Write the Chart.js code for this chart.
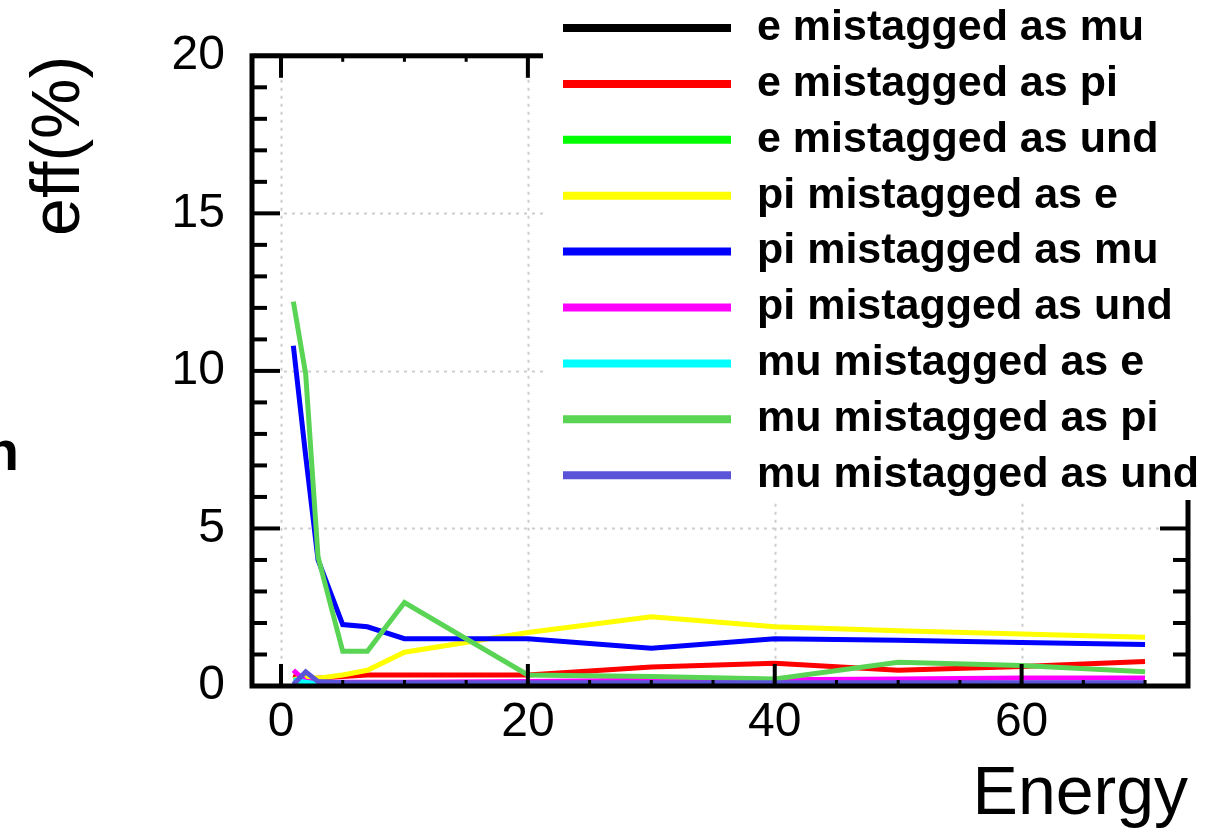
<!DOCTYPE html>
<html>
<head>
<meta charset="utf-8">
<title>Mistag efficiency vs energy</title>
<script src="https://cdn.jsdelivr.net/npm/chart.js@4.4.1/dist/chart.umd.min.js"></script>
<style>
  html, body { margin: 0; padding: 0; background: #ffffff; }
  canvas { display: block; }
</style>
</head>
<body>
<canvas id="chart" width="1230" height="836"></canvas>
<script>
// Beam energies where the mistag rates were measured
const energies = [1, 2, 3, 5, 7, 10, 20, 30, 40, 50, 60, 70];

// Mistag efficiencies in percent, one array per channel
const eAsMu    = [0.00, 0.00, 0.00, 0.00, 0.00, 0.00, 0.00, 0.00, 0.00, 0.00, 0.00, 0.00];
const eAsPi    = [0.35, 0.20, 0.25, 0.30, 0.35, 0.35, 0.35, 0.60, 0.72, 0.50, 0.62, 0.78];
const eAsUnd   = [0.02, 0.02, 0.02, 0.02, 0.02, 0.02, 0.02, 0.02, 0.02, 0.02, 0.02, 0.02];
const piAsE    = [0.20, 0.30, 0.25, 0.35, 0.50, 1.07, 1.70, 2.20, 1.88, 1.75, 1.65, 1.55];
const piAsMu   = [10.80, 7.30, 4.00, 1.95, 1.88, 1.50, 1.50, 1.20, 1.50, 1.45, 1.38, 1.32];
const piAsUnd  = [0.50, 0.15, 0.12, 0.12, 0.12, 0.12, 0.14, 0.18, 0.20, 0.22, 0.25, 0.25];
const muAsE    = [0.20, 0.12, 0.07, 0.06, 0.06, 0.06, 0.06, 0.06, 0.06, 0.06, 0.06, 0.06];
const muAsPi   = [12.20, 9.90, 4.10, 1.10, 1.10, 2.65, 0.35, 0.30, 0.22, 0.75, 0.65, 0.45];
const muAsUnd  = [0.05, 0.45, 0.14, 0.10, 0.10, 0.10, 0.10, 0.10, 0.10, 0.10, 0.10, 0.10];

const seriesLabels = [
  'e mistagged as mu', 'e mistagged as pi', 'e mistagged as und',
  'pi mistagged as e', 'pi mistagged as mu', 'pi mistagged as und',
  'mu mistagged as e', 'mu mistagged as pi', 'mu mistagged as und'
];
const seriesValues = [eAsMu, eAsPi, eAsUnd, piAsE, piAsMu, piAsUnd, muAsE, muAsPi, muAsUnd];
const seriesColors = [
  '#000000', '#ff0000', '#00ff00',
  '#ffff00', '#0000ff', '#ff00ff',
  '#00ffff', '#59d454', '#5954d8'
];

// Axis tick labels
const xTickValues = [0, 20, 40, 60];
const yTickValues = [0, 5, 10, 15, 20];

const FONT = "'Liberation Sans', Arial, Helvetica, sans-serif";

const datasets = seriesValues.map((vals, i) => ({
  label: seriesLabels[i],
  data: energies.map((e, k) => ({ x: e, y: vals[k] })),
  borderColor: seriesColors[i],
  backgroundColor: seriesColors[i],
  borderWidth: 5,
  pointRadius: 0,
  tension: 0,
  fill: false,
  // first series is painted first, the last one ends up on top
  order: seriesValues.length - 1 - i
}));

// Dotted grid, boxed frame with inward ticks, legend panel
const framePlugin = {
  id: 'framePlugin',
  beforeDatasetsDraw(chart) {
    const { ctx, chartArea: a, scales: { x, y } } = chart;
    ctx.save();
    ctx.strokeStyle = '#cdcdcd';
    ctx.lineWidth = 2;
    ctx.setLineDash([3, 5]);
    xTickValues.forEach(v => {
      const px = Math.round(x.getPixelForValue(v)) + 0.5;
      ctx.beginPath(); ctx.moveTo(px, a.top); ctx.lineTo(px, a.bottom); ctx.stroke();
    });
    yTickValues.forEach(v => {
      const py = Math.round(y.getPixelForValue(v)) + 0.5;
      ctx.beginPath(); ctx.moveTo(a.left, py); ctx.lineTo(a.right, py); ctx.stroke();
    });
    ctx.restore();
  },
  afterDatasetsDraw(chart) {
    const { ctx, chartArea: a, scales: { x, y } } = chart;
    ctx.save();
    ctx.strokeStyle = '#000000';
    ctx.lineCap = 'butt';

    // y ticks: minor every 1, major every 5, on both sides
    ctx.lineWidth = 4;
    for (let v = 0; v <= 20; v++) {
      const py = y.getPixelForValue(v);
      const len = (v % 5 === 0) ? 28 : 15;
      ctx.beginPath(); ctx.moveTo(a.left, py); ctx.lineTo(a.left + len, py); ctx.stroke();
      ctx.beginPath(); ctx.moveTo(a.right, py); ctx.lineTo(a.right - len, py); ctx.stroke();
    }
    // x ticks: minor every 5, major every 20, bottom and top
    for (let v = 0; v <= 70; v += 5) {
      const px = x.getPixelForValue(v);
      const major = v % 20 === 0;
      const len = major ? 22 : 6;
      ctx.lineWidth = major ? 4 : 3;
      ctx.beginPath(); ctx.moveTo(px, a.bottom); ctx.lineTo(px, a.bottom - len); ctx.stroke();
      ctx.beginPath(); ctx.moveTo(px, a.top); ctx.lineTo(px, a.top + len); ctx.stroke();
    }

    // frame
    ctx.lineWidth = 5;
    ctx.strokeRect(a.left, a.top, a.right - a.left, a.bottom - a.top);
    ctx.restore();
  },
  afterDraw(chart) {
    const { ctx } = chart;
    ctx.save();
    // legend panel
    ctx.fillStyle = '#ffffff';
    ctx.fillRect(543, 0, 1230 - 543, 500);
    ctx.font = 'bold 43px ' + FONT;
    ctx.textBaseline = 'middle';
    ctx.textAlign = 'left';
    chart.data.datasets.forEach((ds, i) => {
      const ly = 28 + i * 55.9;
      ctx.strokeStyle = ds.borderColor;
      ctx.lineWidth = 8;
      ctx.lineCap = 'butt';
      ctx.beginPath(); ctx.moveTo(563, ly); ctx.lineTo(731, ly); ctx.stroke();
      ctx.fillStyle = '#000000';
      ctx.fillText(ds.label, 757, ly);
    });
    // edge of a neighbouring label
    ctx.font = 'bold 56px ' + FONT;
    ctx.textAlign = 'right';
    ctx.textBaseline = 'alphabetic';
    ctx.fillStyle = '#000000';
    ctx.fillText('n', 19, 470);
    ctx.restore();
  }
};

new Chart(document.getElementById('chart'), {
  type: 'line',
  data: { datasets },
  options: {
    responsive: false,
    animation: false,
    events: [],
    layout: { padding: { top: 50, right: 42, left: 0, bottom: 0 } },
    plugins: { legend: { display: false }, tooltip: { enabled: false } },
    scales: {
      x: {
        type: 'linear',
        min: -2.35,
        max: 73.48,
        grid: { display: false, drawTicks: false },
        border: { display: false },
        afterBuildTicks: s => { s.ticks = xTickValues.map(v => ({ value: v })); },
        afterFit: s => { s.height = 150; },
        ticks: {
          autoSkip: false, maxRotation: 0, padding: 8,
          color: '#000000', font: { family: FONT, size: 48 }
        },
        title: {
          display: true, text: 'Energy', align: 'end', color: '#000000',
          font: { family: FONT, size: 68 }, padding: { top: 0, bottom: 0 }
        }
      },
      y: {
        type: 'linear',
        min: 0,
        max: 20,
        grid: { display: false, drawTicks: false },
        border: { display: false },
        afterBuildTicks: s => { s.ticks = yTickValues.map(v => ({ value: v })); },
        afterFit: s => { s.width = 252; },
        ticks: {
          padding: 27,
          color: '#000000', font: { family: FONT, size: 48 }
        },
        title: {
          display: true, text: 'eff(%)', align: 'end', color: '#000000',
          font: { family: FONT, size: 68 }, padding: { top: 19, bottom: 0 }
        }
      }
    }
  },
  plugins: [framePlugin]
});
</script>
</body>
</html>
